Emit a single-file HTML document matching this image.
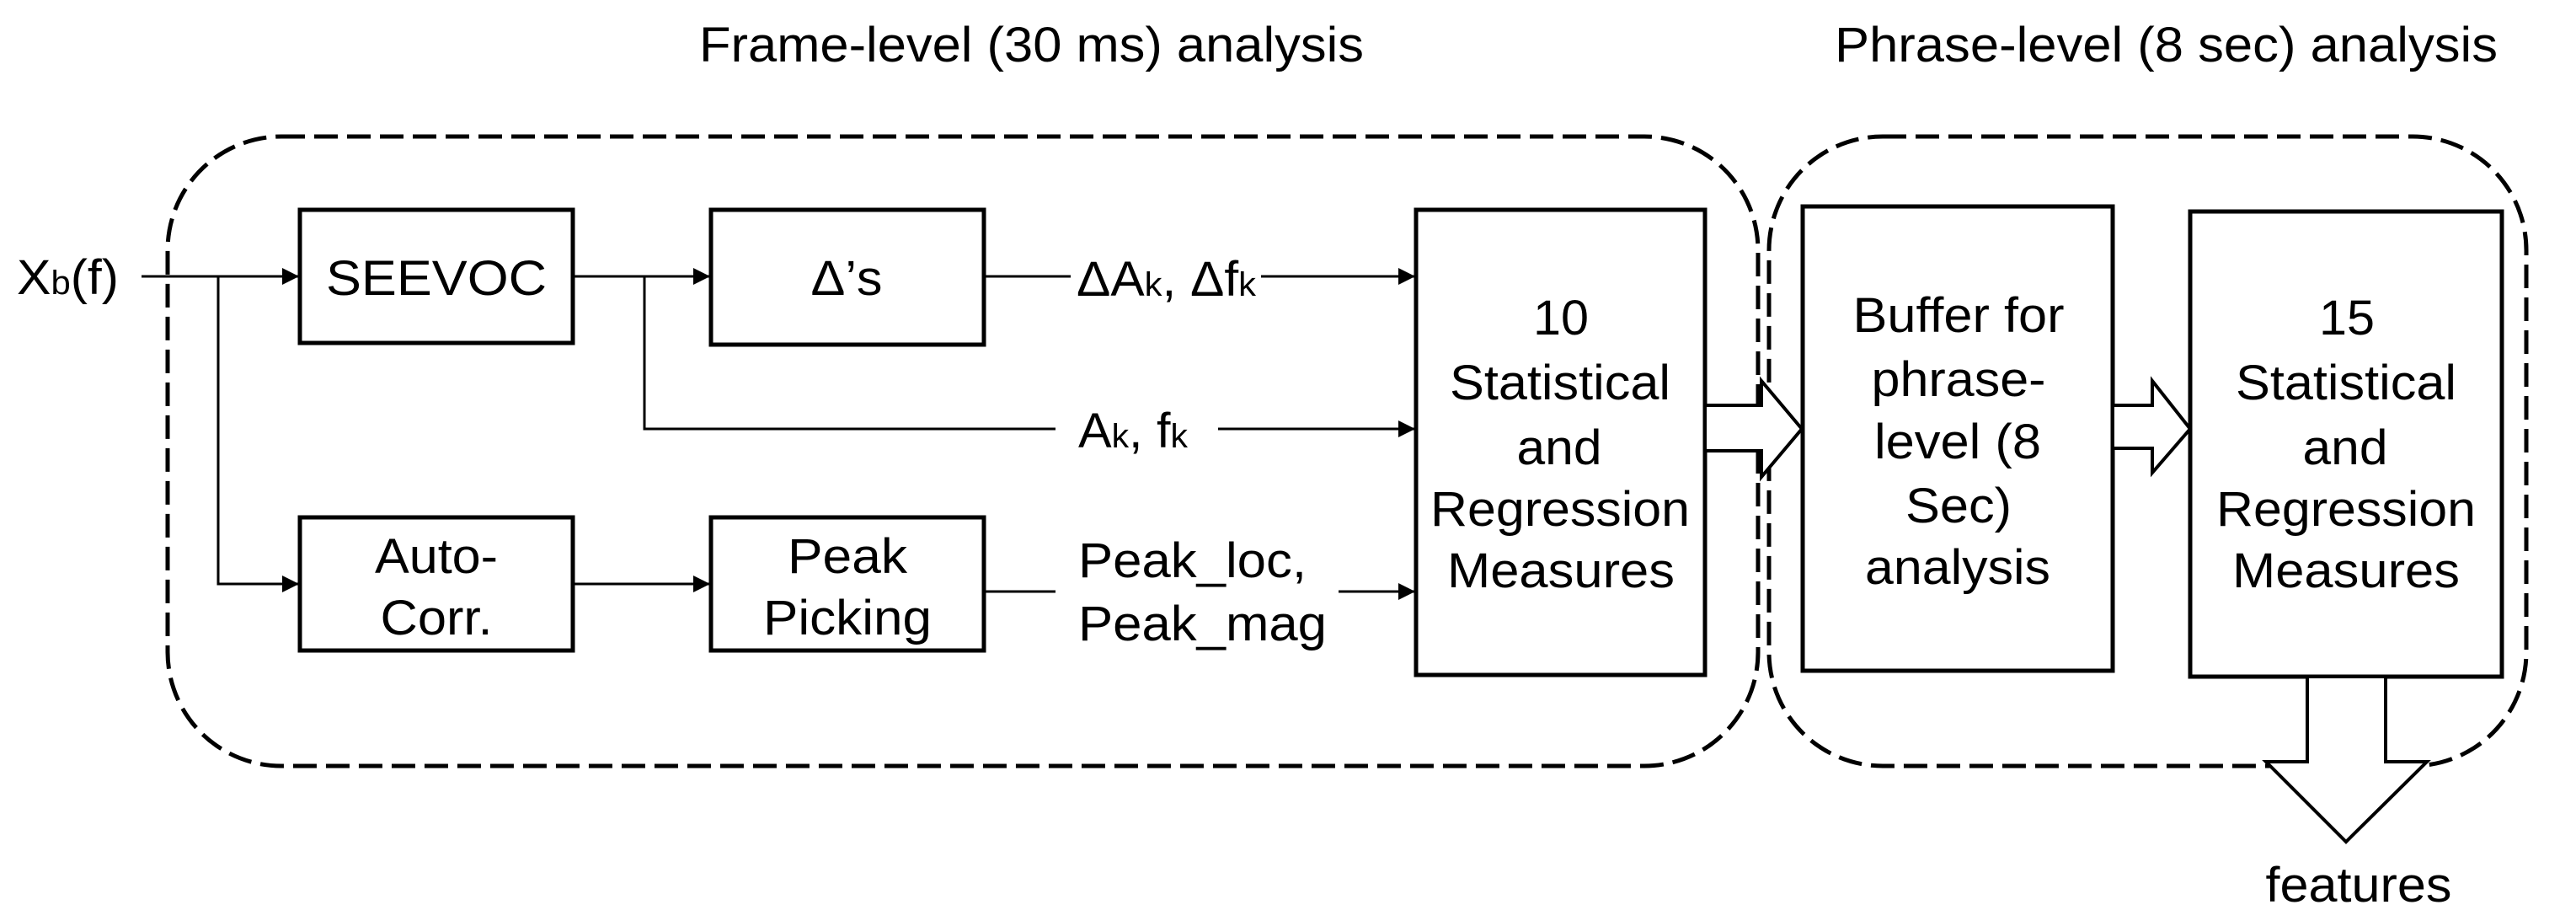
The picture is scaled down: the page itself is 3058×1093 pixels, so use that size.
<!DOCTYPE html>
<html><head><meta charset="utf-8"><style>
html,body{margin:0;padding:0;background:#fff;}
svg{display:block;}
text{font-family:"Liberation Sans",Arial,sans-serif;font-size:58px;fill:#000;}
</style></head><body>
<svg width="3058" height="1093" viewBox="0 0 3058 1093" xmlns="http://www.w3.org/2000/svg">
<defs>
<marker id="ah" markerWidth="20" markerHeight="20" refX="19" refY="10" orient="auto" markerUnits="userSpaceOnUse">
<path d="M0,0 L20,10 L0,20 Z" fill="#000"/>
</marker>
</defs>
<text x="830" y="73" textLength="789" lengthAdjust="spacingAndGlyphs">Frame-level (30 ms) analysis</text>
<text x="2178" y="73" textLength="787" lengthAdjust="spacingAndGlyphs">Phrase-level (8 sec) analysis</text>
<rect x="199" y="162" width="1888" height="747" rx="135" ry="135" fill="none" stroke="#000" stroke-width="5" stroke-dasharray="28,11"/>
<rect x="2100" y="162" width="899" height="747" rx="135" ry="135" fill="none" stroke="#000" stroke-width="5" stroke-dasharray="28,11"/>
<g fill="#fff" stroke="#000" stroke-width="5">
<rect x="356" y="249" width="324" height="158"/>
<rect x="844" y="249" width="324" height="160"/>
<rect x="356" y="614" width="324" height="158"/>
<rect x="844" y="614" width="324" height="158"/>
<rect x="1681" y="249" width="343" height="552"/>
<rect x="2140" y="245" width="368" height="551"/>
<rect x="2600" y="251" width="370" height="552"/>
</g>
<g stroke="#000" stroke-width="3" fill="none">
<line x1="168" y1="328" x2="354" y2="328" marker-end="url(#ah)"/>
<polyline points="259,328 259,693 354,693" marker-end="url(#ah)"/>
<line x1="680" y1="328" x2="842" y2="328" marker-end="url(#ah)"/>
<polyline points="765,328 765,509 1253,509"/>
<line x1="1446" y1="509" x2="1679" y2="509" marker-end="url(#ah)"/>
<line x1="1168" y1="328" x2="1271" y2="328"/>
<line x1="1497" y1="328" x2="1679" y2="328" marker-end="url(#ah)"/>
<line x1="680" y1="693" x2="842" y2="693" marker-end="url(#ah)"/>
<line x1="1168" y1="702" x2="1253" y2="702"/>
<line x1="1589" y1="702" x2="1679" y2="702" marker-end="url(#ah)"/>
</g>
<g fill="#fff" stroke="#000" stroke-width="4" stroke-linejoin="miter">
<path d="M2026,481 L2091,481 L2091,452 L2139,509 L2091,566 L2091,535 L2026,535"/>
<path d="M2510,481 L2555,481 L2555,452 L2600,509 L2555,561 L2555,532 L2510,532"/>
<path d="M2739,805 L2739,904 L2690,904 L2785,999 L2881,904 L2832,904 L2832,805"/>
</g>
<text x="20" y="349" textLength="121" lengthAdjust="spacingAndGlyphs">X<tspan font-size="40">b</tspan>(f)</text>
<text x="518" y="350" text-anchor="middle" textLength="262" lengthAdjust="spacingAndGlyphs">SEEVOC</text>
<text x="1005" y="350" text-anchor="middle" textLength="85" lengthAdjust="spacingAndGlyphs">Δ’s</text>
<text x="518" y="680" text-anchor="middle" textLength="146" lengthAdjust="spacingAndGlyphs">Auto-</text>
<text x="518" y="753" text-anchor="middle" textLength="133" lengthAdjust="spacingAndGlyphs">Corr.</text>
<text x="1006" y="680" text-anchor="middle" textLength="142" lengthAdjust="spacingAndGlyphs">Peak</text>
<text x="1006" y="753" text-anchor="middle" textLength="200" lengthAdjust="spacingAndGlyphs">Picking</text>
<text x="1278" y="351" textLength="213" lengthAdjust="spacingAndGlyphs">ΔA<tspan font-size="40">k</tspan>, Δf<tspan font-size="40">k</tspan></text>
<text x="1280" y="531" textLength="130" lengthAdjust="spacingAndGlyphs">A<tspan font-size="40">k</tspan>, f<tspan font-size="40">k</tspan></text>
<text x="1280" y="685" textLength="271" lengthAdjust="spacingAndGlyphs">Peak_loc,</text>
<text x="1280" y="760" textLength="295" lengthAdjust="spacingAndGlyphs">Peak_mag</text>
<g text-anchor="middle">
<text x="1853" y="397" textLength="66" lengthAdjust="spacingAndGlyphs">10</text>
<text x="1852" y="474" textLength="262" lengthAdjust="spacingAndGlyphs">Statistical</text>
<text x="1851" y="551" textLength="101" lengthAdjust="spacingAndGlyphs">and</text>
<text x="1852" y="624" textLength="308" lengthAdjust="spacingAndGlyphs">Regression</text>
<text x="1853" y="697" textLength="270" lengthAdjust="spacingAndGlyphs">Measures</text>
<text x="2325" y="394" textLength="251" lengthAdjust="spacingAndGlyphs">Buffer for</text>
<text x="2325" y="470" textLength="207" lengthAdjust="spacingAndGlyphs">phrase-</text>
<text x="2324" y="544" textLength="198" lengthAdjust="spacingAndGlyphs">level (8</text>
<text x="2325" y="620" textLength="126" lengthAdjust="spacingAndGlyphs">Sec)</text>
<text x="2324" y="693" textLength="220" lengthAdjust="spacingAndGlyphs">analysis</text>
<text x="2786" y="397" textLength="66" lengthAdjust="spacingAndGlyphs">15</text>
<text x="2785" y="474" textLength="262" lengthAdjust="spacingAndGlyphs">Statistical</text>
<text x="2784" y="551" textLength="101" lengthAdjust="spacingAndGlyphs">and</text>
<text x="2785" y="624" textLength="308" lengthAdjust="spacingAndGlyphs">Regression</text>
<text x="2785" y="697" textLength="270" lengthAdjust="spacingAndGlyphs">Measures</text>
<text x="2800" y="1070" textLength="221" lengthAdjust="spacingAndGlyphs">features</text>
</g>
</svg>
</body></html>
